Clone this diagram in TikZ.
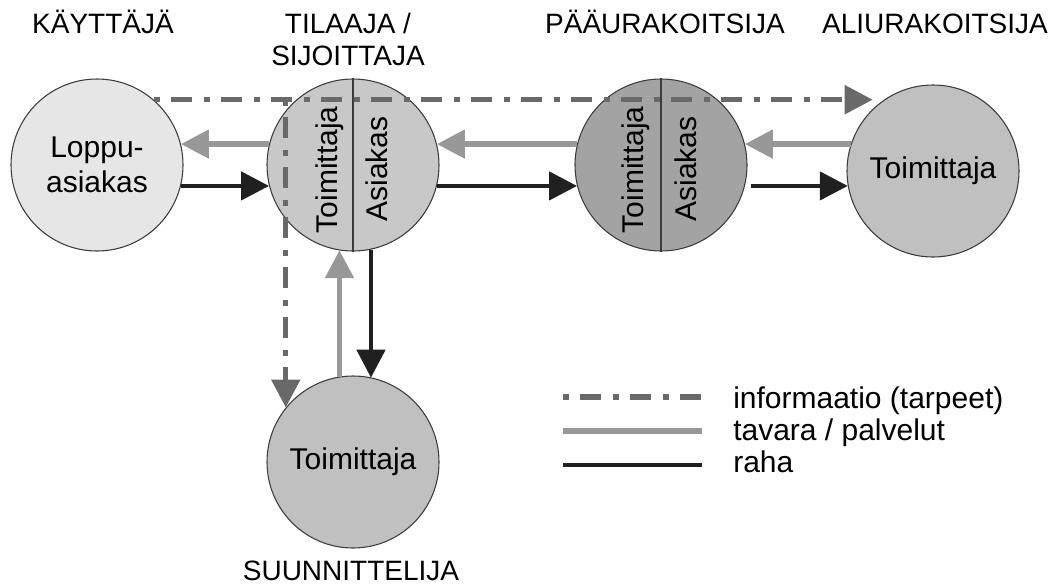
\documentclass[tikz,border=0pt]{standalone}
\usepackage{fontspec}
\setmainfont{Liberation Sans}
\usetikzlibrary{arrows.meta,calc}
\definecolor{infoc}{RGB}{105,105,105}
\definecolor{goodsc}{RGB}{152,152,152}
\definecolor{moneyc}{RGB}{32,32,32}
\definecolor{fillA}{RGB}{230,230,230}
\definecolor{fillB}{RGB}{200,200,200}
\definecolor{fillC}{RGB}{163,163,163}
\definecolor{fillD}{RGB}{192,192,192}
\definecolor{edgec}{RGB}{60,60,60}
\begin{document}
\begin{tikzpicture}[x=0.75pt,y=-0.75pt,
  party/.style={circle,draw=edgec,line width=0.8pt,minimum size=129pt,inner sep=0pt,
    font=\fontsize{22.5}{26}\selectfont,align=center},
  head/.style={font=\fontsize{21}{25}\selectfont,anchor=base,inner sep=0pt},
  role/.style={font=\fontsize{22.5}{26}\selectfont,rotate=90,inner sep=0pt},
  legtext/.style={font=\fontsize{22.5}{26}\selectfont,anchor=base west,inner sep=0pt},
  divider/.style={draw=edgec,line width=1.1pt},
  tip/.style={-{Triangle[length=21pt,width=21pt]}},
  info/.style={draw=infoc,line width=4pt,dash pattern=on 4.5pt off 8.25pt on 15.75pt off 9pt},
  goods/.style={draw=goodsc,line width=4pt},
  money/.style={draw=moneyc,line width=3.5pt}]
\useasboundingbox (0,0) rectangle (1050,586);

% parties
\node[party,fill=fillA] (lop) at (97,165) {Loppu-\\asiakas};
\node[party,fill=fillB] (til) at (353,165) {};
\node[party,fill=fillC] (paa) at (661,165) {};
\node[party,fill=fillD] (ali) at (933,171) {Toimittaja};
\node[party,fill=fillD] (sun) at (353,462) {Toimittaja};

% split circles: supplier side and customer side
\draw[divider] (til.north) -- (til.south);
\draw[divider] (paa.north) -- (paa.south);
\node[role] (tilT) at (330,170) {Toimittaja};
\node[role] (tilA) at (377,169) {Asiakas};
\node[role] (paaT) at (636,170) {Toimittaja};
\node[role] (paaA) at (686,169) {Asiakas};

% headings
\node[head] (hK) at (103,33) {KÄYTTÄJÄ};
\node[head] (hT1) at (348,33) {TILAAJA /};
\node[head] (hT2) at (348,65) {SIJOITTAJA};
\node[head] (hP) at (665,33) {PÄÄURAKOITSIJA};
\node[head] (hA) at (935,33) {ALIURAKOITSIJA};
\node[head] (hS) at (351,580) {SUUNNITTELIJA};

% goods / services
\draw[goods,tip] (til.166) -- (lop.14);
\draw[goods,tip] (paa.166) -- (til.14);
\draw[goods,tip] (ali.161.7 |- paa.14.1) -- (paa.14.1);
\draw[goods,tip] (sun.99.4) -- (sun.99.4 |- til.260.6);

% money
\draw[money,tip] (lop.-14) -- (til.194);
\draw[money,tip] (til.-14) -- (paa.194);
\draw[money,tip,shorten <=4.5pt] (paa.-14.1) -- (paa.-14.1 -| ali.190);
\draw[money,tip] (til.282.8) -- (til.282.8 |- sun.77.2);

% information (needs)
\draw[info,tip,shorten >=8pt] (lop.49.1) -- (lop.49.1 -| ali.125.5);
\draw[info,tip] (sun.141.2 |- lop.49.1) -- (sun.141.2);

% legend
\coordinate (l1a) at (563,397); \coordinate (l1b) at (702,397);
\coordinate (l2a) at (563,431); \coordinate (l2b) at (702,431);
\coordinate (l3a) at (563,465); \coordinate (l3b) at (702,465);
\draw[info] (l1a) -- (l1b);
\draw[goods] (l2a) -- (l2b);
\draw[money] (l3a) -- (l3b);
\node[legtext] (t1) at (733,408) {informaatio (tarpeet)};
\node[legtext] (t2) at (733,440) {tavara / palvelut};
\node[legtext] (t3) at (733,472) {raha};
\end{tikzpicture}
\end{document}
